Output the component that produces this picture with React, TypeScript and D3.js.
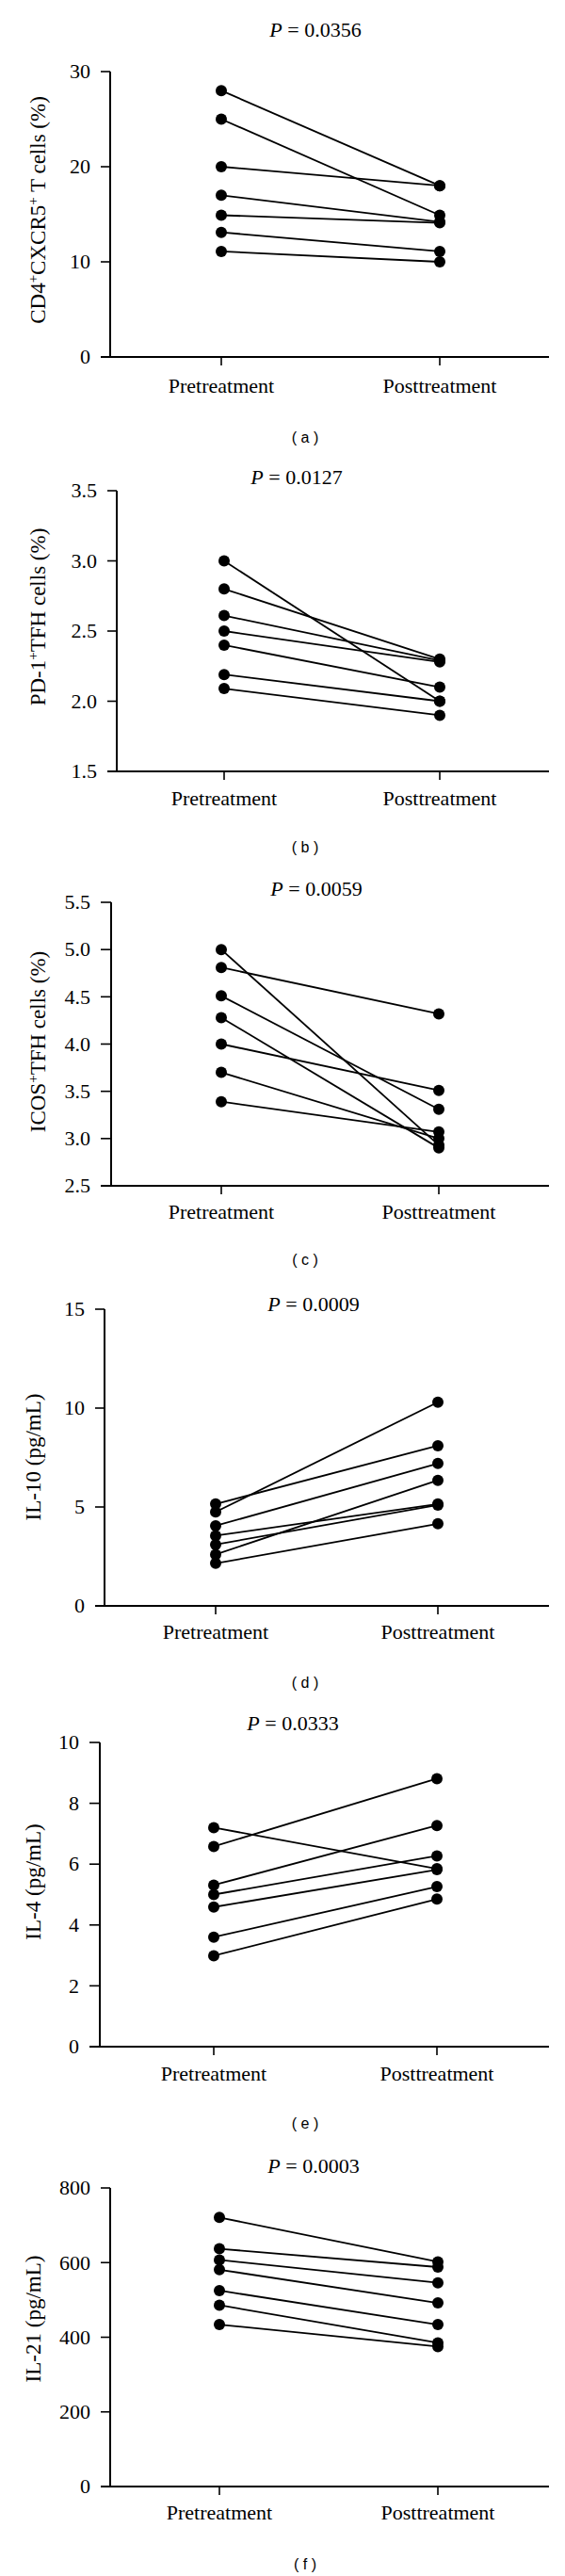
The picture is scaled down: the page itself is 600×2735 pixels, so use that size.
import React from "react";
import * as d3 from "d3";

const groups = ["Pretreatment", "Posttreatment"];

const cd4Pre = [28, 25, 20, 17, 14.9, 13.1, 11.1];
const cd4Post = [18, 14.9, 18, 14.2, 14.1, 11.1, 10];
const cd4Ticks = [0, 10, 20, 30];

const pd1Pre = [3.0, 2.8, 2.61, 2.5, 2.4, 2.19, 2.09];
const pd1Post = [2.0, 2.3, 2.29, 2.28, 2.1, 2.0, 1.9];
const pd1Ticks = [1.5, 2.0, 2.5, 3.0, 3.5];

const icosPre = [5.0, 4.81, 4.51, 4.28, 4.0, 3.7, 3.39];
const icosPost = [2.93, 4.32, 3.31, 2.9, 3.51, 3.0, 3.07];
const icosTicks = [2.5, 3.0, 3.5, 4.0, 4.5, 5.0, 5.5];

const il10Pre = [5.15, 4.75, 4.05, 3.55, 3.1, 2.6, 2.15];
const il10Post = [8.1, 10.3, 7.2, 5.15, 5.1, 6.35, 4.15];
const il10Ticks = [0, 5, 10, 15];

const il4Pre = [7.2, 6.58, 5.31, 5.0, 4.59, 3.6, 2.99];
const il4Post = [5.85, 8.81, 7.27, 6.27, 5.82, 5.26, 4.85];
const il4Ticks = [0, 2, 4, 6, 8, 10];

const il21Pre = [721, 637, 607, 581, 525, 486, 434];
const il21Post = [602, 588, 546, 492, 434, 385, 375];
const il21Ticks = [0, 200, 400, 600, 800];

const pValues = ["0.0356", "0.0127", "0.0059", "0.0009", "0.0333", "0.0003"];
const letters = ["a", "b", "c", "d", "e", "f"];

const SERIF = "'Liberation Serif', 'Times New Roman', serif";
const SANS = "'Liberation Sans', Arial, sans-serif";

const sup = (t: string) => (
  <tspan baselineShift="super" fontSize="15">{t}</tspan>
);

const yLabels = [
  <>CD4{sup("+")}CXCR5{sup("+")} T cells (%)</>,
  <>PD-1{sup("+")}TFH cells (%)</>,
  <>ICOS{sup("+")}TFH cells (%)</>,
  <>IL-10 (pg/mL)</>,
  <>IL-4 (pg/mL)</>,
  <>IL-21 (pg/mL)</>,
];

const datasets = [
  { pre: cd4Pre, post: cd4Post, ticks: cd4Ticks, fmt: d3.format("d") },
  { pre: pd1Pre, post: pd1Post, ticks: pd1Ticks, fmt: d3.format(".1f") },
  { pre: icosPre, post: icosPost, ticks: icosTicks, fmt: d3.format(".1f") },
  { pre: il10Pre, post: il10Post, ticks: il10Ticks, fmt: d3.format("d") },
  { pre: il4Pre, post: il4Post, ticks: il4Ticks, fmt: d3.format("d") },
  { pre: il21Pre, post: il21Post, ticks: il21Ticks, fmt: d3.format("d") },
];

const layouts = [
  { axisX: 117, tickStart: 107, xEnd: 583, preX: 235, postX: 467, yTop: 76, yBottom: 379, titleX: 335, titleY: 39, xLabelY: 417, yLabelX: 48, yLabelY: 223, letterY: 470 },
  { axisX: 124, tickStart: 114, xEnd: 583, preX: 238, postX: 467, yTop: 521, yBottom: 819, titleX: 315, titleY: 514, xLabelY: 855, yLabelX: 48, yLabelY: 655, letterY: 905 },
  { axisX: 118, tickStart: 107, xEnd: 583, preX: 235, postX: 466, yTop: 958, yBottom: 1259, titleX: 336, titleY: 951, xLabelY: 1294, yLabelX: 48, yLabelY: 1106, letterY: 1343 },
  { axisX: 111, tickStart: 101, xEnd: 583, preX: 229, postX: 465, yTop: 1390, yBottom: 1705, titleX: 333, titleY: 1392, xLabelY: 1740, yLabelX: 43, yLabelY: 1547, letterY: 1792 },
  { axisX: 106, tickStart: 95, xEnd: 583, preX: 227, postX: 464, yTop: 1850, yBottom: 2173, titleX: 311, titleY: 1837, xLabelY: 2209, yLabelX: 43, yLabelY: 1998, letterY: 2260 },
  { axisX: 117, tickStart: 107, xEnd: 583, preX: 233, postX: 465, yTop: 2323, yBottom: 2640, titleX: 333, titleY: 2307, xLabelY: 2675, yLabelX: 43, yLabelY: 2462, letterY: 2728 },
];

function Panel({ i }: { i: number }) {
  const d = datasets[i];
  const L = layouts[i];
  const dom = d3.extent(d.ticks) as [number, number];
  const y = d3.scaleLinear().domain(dom).range([L.yBottom, L.yTop]);
  const x = d3.scalePoint<string>().domain(groups).range([L.preX, L.postX]);
  const pairs = d.pre.map((v, k) => [v, d.post[k]]);
  const line = d3
    .line<[string, number]>()
    .x((p) => x(p[0]) as number)
    .y((p) => y(p[1]));
  return (
    <g>
      <text x={L.titleX} y={L.titleY} textAnchor="middle" fontFamily={SERIF} fontSize={22}>
        <tspan fontStyle="italic">P</tspan> = {pValues[i]}
      </text>
      <line x1={L.axisX} x2={L.axisX} y1={y(dom[1])} y2={y(dom[0])} stroke="#000" strokeWidth={2} />
      {d.ticks.map((t) => (
        <g key={t}>
          <line x1={L.tickStart} x2={L.axisX} y1={y(t)} y2={y(t)} stroke="#000" strokeWidth={1.6} />
          <text x={L.tickStart - 11} y={y(t)} dy="0.33em" textAnchor="end" fontFamily={SERIF} fontSize={22}>
            {d.fmt(t)}
          </text>
        </g>
      ))}
      <line x1={L.tickStart} x2={L.xEnd} y1={y(dom[0])} y2={y(dom[0])} stroke="#000" strokeWidth={2} />
      {groups.map((g) => (
        <g key={g}>
          <line x1={x(g)} x2={x(g)} y1={y(dom[0])} y2={y(dom[0]) + 9} stroke="#000" strokeWidth={1.6} />
          <text x={x(g)} y={L.xLabelY} textAnchor="middle" fontFamily={SERIF} fontSize={22}>
            {g}
          </text>
        </g>
      ))}
      <text
        transform={`translate(${L.yLabelX},${L.yLabelY}) rotate(-90)`}
        textAnchor="middle"
        fontFamily={SERIF}
        fontSize={23}
      >
        {yLabels[i]}
      </text>
      {pairs.map((p, k) => (
        <path
          key={k}
          d={line([[groups[0], p[0]], [groups[1], p[1]]]) as string}
          fill="none"
          stroke="#000"
          strokeWidth={1.8}
        />
      ))}
      {pairs.map((p, k) => (
        <g key={"c" + k}>
          <circle cx={x(groups[0])} cy={y(p[0])} r={6} fill="#000" />
          <circle cx={x(groups[1])} cy={y(p[1])} r={6} fill="#000" />
        </g>
      ))}
      <text x={324} y={L.letterY} textAnchor="middle" fontFamily={SANS} fontSize={16}>
        ( {letters[i]} )
      </text>
    </g>
  );
}

export default function App() {
  return (
    <svg
      width={600}
      height={2735}
      viewBox="0 0 600 2735"
      style={{ position: "absolute", left: 0, top: 0, background: "#fff" }}
    >
      <rect width={600} height={2735} fill="#fff" />
      {datasets.map((_, i) => (
        <Panel key={i} i={i} />
      ))}
    </svg>
  );
}
